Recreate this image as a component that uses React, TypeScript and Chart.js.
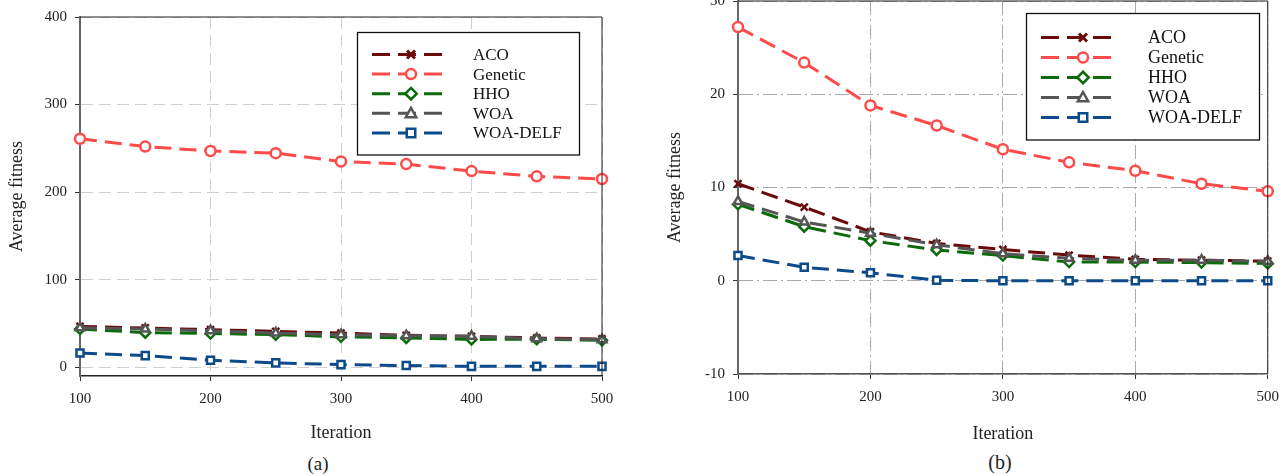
import React, { useEffect, useRef } from 'react';
import { Chart, registerables } from 'chart.js';

Chart.register(...registerables);

// ---------- data ----------
const iterations = [100, 150, 200, 250, 300, 350, 400, 450, 500];
const seriesNames = ['ACO', 'Genetic', 'HHO', 'WOA', 'WOA-DELF'];

// panel (a)
const acoA = [46.6, 44.8, 42.9, 41, 39, 36.4, 35.3, 33.4, 32.3];
const geneticA = [261, 252, 247, 244.5, 235, 232, 224, 218, 215];
const hhoA = [43.6, 39.5, 38.5, 37.2, 34.8, 33.5, 31.8, 32, 30.7];
const woaA = [45, 43.6, 41.7, 39, 37.2, 36, 35.3, 32.6, 31.5];
const woaDelfA = [16.3, 13.3, 8, 5, 3, 1.9, 1, 1, 1];

// panel (b)
const acoB = [10.4, 7.9, 5.25, 4.0, 3.35, 2.75, 2.3, 2.2, 2.1];
const geneticB = [27.2, 23.4, 18.8, 16.65, 14.1, 12.7, 11.8, 10.4, 9.6];
const hhoB = [8.2, 5.8, 4.3, 3.3, 2.7, 2.0, 2.0, 1.95, 1.85];
const woaB = [8.5, 6.3, 5.1, 3.85, 2.9, 2.4, 2.2, 2.2, 2.1];
const woaDelfB = [2.7, 1.45, 0.85, 0.05, 0, 0, 0, 0, 0];

const xTicks = [100, 200, 300, 400, 500];
const yTicksA = [0, 100, 200, 300, 400];
const yTicksB = [-10, 0, 10, 20, 30];

// ---------- styles ----------
const colors = ['#6b0a0a', '#ff4a4a', '#0b6b0b', '#555555', '#0d4a8a'];
const pointStyles = ['crossRot', 'circle', 'rectRot', 'triangle', 'rect'];
const drawOrder = [3, 4, 2, 0, 1];
const FONT = "'Liberation Serif', 'Times New Roman', serif";

function drawMarker(ctx: CanvasRenderingContext2D, style: string, x: number, y: number, r: number, color: string) {
  ctx.save();
  ctx.setLineDash([]);
  ctx.strokeStyle = color;
  ctx.fillStyle = '#ffffff';
  ctx.lineWidth = 2.5;
  ctx.beginPath();
  if (style === 'circle') {
    ctx.arc(x, y, r, 0, Math.PI * 2);
    ctx.fill();
    ctx.stroke();
  } else if (style === 'rect') {
    const s = r * 0.85;
    ctx.rect(x - s, y - s, 2 * s, 2 * s);
    ctx.fill();
    ctx.stroke();
  } else if (style === 'rectRot') {
    const s = r * 1.15;
    ctx.moveTo(x, y - s);
    ctx.lineTo(x + s, y);
    ctx.lineTo(x, y + s);
    ctx.lineTo(x - s, y);
    ctx.closePath();
    ctx.fill();
    ctx.stroke();
  } else if (style === 'triangle') {
    const s = r * 1.1;
    ctx.moveTo(x, y - s);
    ctx.lineTo(x + s * 0.95, y + s * 0.7);
    ctx.lineTo(x - s * 0.95, y + s * 0.7);
    ctx.closePath();
    ctx.fill();
    ctx.stroke();
  } else if (style === 'crossRot') {
    const s = r * 0.8;
    ctx.lineWidth = 3;
    ctx.moveTo(x - s, y - s);
    ctx.lineTo(x + s, y + s);
    ctx.moveTo(x + s, y - s);
    ctx.lineTo(x - s, y + s);
    ctx.stroke();
  }
  ctx.restore();
}

const boxLegend = {
  id: 'boxLegend',
  afterDatasetsDraw(chart: any, _args: any, opts: any) {
    if (!opts || !opts.w) return;
    const ctx: CanvasRenderingContext2D = chart.ctx;
    ctx.save();
    ctx.fillStyle = '#ffffff';
    ctx.fillRect(opts.x, opts.y, opts.w, opts.h);
    ctx.strokeStyle = '#111';
    ctx.lineWidth = 1.3;
    ctx.setLineDash([]);
    ctx.strokeRect(opts.x, opts.y, opts.w, opts.h);
    chart.data.datasets.forEach((ds: any, i: number) => {
      const y = opts.rowY + i * opts.rowGap;
      ctx.strokeStyle = ds.borderColor;
      ctx.lineWidth = 3;
      ctx.setLineDash([18, 8]);
      ctx.beginPath();
      ctx.moveTo(opts.lineX0, y);
      ctx.lineTo(opts.lineX1, y);
      ctx.stroke();
      ctx.setLineDash([]);
      drawMarker(ctx, ds.pointStyle, opts.markerX, y, 5, ds.borderColor);
      ctx.fillStyle = '#111';
      ctx.font = `${opts.fontSize}px ${FONT}`;
      ctx.textBaseline = 'middle';
      ctx.textAlign = 'left';
      ctx.fillText(ds.label, opts.textX, y + 1);
    });
    ctx.restore();
  },
};

const frame = {
  id: 'frame',
  afterDraw(chart: any, _args: any, opts: any) {
    const { left, right, top, bottom } = chart.chartArea;
    const ctx: CanvasRenderingContext2D = chart.ctx;
    ctx.save();
    ctx.setLineDash([]);
    ctx.strokeStyle = opts.color || '#222';
    ctx.lineWidth = opts.width || 1;
    ctx.beginPath();
    ctx.moveTo(left, top);
    ctx.lineTo(right, top);
    ctx.lineTo(right, bottom);
    ctx.stroke();
    ctx.restore();
  },
};

interface PanelCfg {
  width: number;
  height: number;
  series: number[][];
  yMin: number;
  yMax: number;
  yTicks: number[];
  yWidth: number;
  xHeight: number;
  padRight: number;
  padTop: number;
  yTitlePad: number;
  xTitlePad: number;
  yTickLen: number;
  gridColor: string;
  gridDash: number[];
  bottomAxisColor: string;
  legend: any;
}

function Panel({ cfg }: { cfg: PanelCfg }) {
  const ref = useRef<HTMLCanvasElement | null>(null);
  useEffect(() => {
    if (!ref.current) return;
    const datasets = seriesNames.map((name, i) => ({
      label: name,
      data: iterations.map((x, j) => ({ x, y: cfg.series[i][j] })),
      borderColor: colors[i],
      backgroundColor: '#ffffff',
      borderWidth: 3,
      borderDash: [17, 8],
      pointStyle: pointStyles[i],
      pointRadius: 5,
      pointBorderWidth: 2.5,
      pointBackgroundColor: '#ffffff',
      pointBorderColor: colors[i],
      tension: 0,
      clip: false as any,
      order: drawOrder[i],
    }));
    const chart = new Chart(ref.current, {
      type: 'line',
      data: { datasets },
      plugins: [boxLegend, frame],
      options: {
        animation: false,
        responsive: false,
        devicePixelRatio: 1,
        layout: { padding: { left: 0, right: cfg.padRight, top: cfg.padTop, bottom: 0 } },
        plugins: {
          legend: { display: false },
          tooltip: { enabled: false },
          boxLegend: cfg.legend,
          frame: { color: '#222', width: 1 },
        } as any,
        scales: {
          x: {
            type: 'linear',
            min: 100,
            max: 500,
            afterBuildTicks: (s: any) => {
              s.ticks = xTicks.map((v) => ({ value: v }));
            },
            afterFit: (s: any) => {
              s.height = cfg.xHeight;
            },
            ticks: { font: { family: FONT, size: 15 }, color: '#222', padding: 9, maxRotation: 0 },
            grid: {
              color: cfg.gridColor,
              lineWidth: 1,
              drawTicks: true,
              tickLength: cfg.yTickLen,
              tickColor: '#333',
              tickWidth: 1,
            },
            border: { display: true, color: cfg.bottomAxisColor, width: 1.5, dash: cfg.gridDash },
            title: {
              display: true,
              text: 'Iteration',
              font: { family: FONT, size: 18 },
              color: '#222',
              padding: { top: 0, bottom: cfg.xTitlePad },
            },
          },
          y: {
            type: 'linear',
            min: cfg.yMin,
            max: cfg.yMax,
            afterBuildTicks: (s: any) => {
              s.ticks = cfg.yTicks.map((v) => ({ value: v }));
            },
            afterFit: (s: any) => {
              s.width = cfg.yWidth;
            },
            ticks: { font: { family: FONT, size: 15 }, color: '#222', padding: 8 },
            grid: {
              color: cfg.gridColor,
              lineWidth: 1,
              drawTicks: true,
              tickLength: cfg.yTickLen,
              tickColor: '#333',
              tickWidth: 1,
            },
            border: { display: true, color: '#666', width: 2, dash: cfg.gridDash },
            title: {
              display: true,
              text: 'Average fitness',
              font: { family: FONT, size: 18 },
              color: '#222',
              padding: { top: cfg.yTitlePad, bottom: 0 },
            },
          },
        },
      } as any,
    });
    return () => chart.destroy();
  }, [cfg]);
  return <canvas ref={ref} width={cfg.width} height={cfg.height} style={{ display: 'block', width: cfg.width, height: cfg.height }} />;
}

const cfgA: PanelCfg = {
  width: 640,
  height: 450,
  series: [acoA, geneticA, hhoA, woaA, woaDelfA],
  yMin: -10,
  yMax: 400,
  yTicks: yTicksA,
  yWidth: 80,
  xHeight: 74,
  padRight: 38,
  padTop: 16,
  yTitlePad: 6,
  xTitlePad: 6,
  yTickLen: 5,
  gridColor: '#cfcfcf',
  gridDash: [12, 6],
  bottomAxisColor: '#222',
  legend: {
    x: 357.5, y: 32.5, w: 222, h: 122.5,
    rowY: 54.5, rowGap: 19.6,
    lineX0: 372, lineX1: 443, markerX: 411, textX: 473, fontSize: 17,
  },
};

const cfgB: PanelCfg = {
  width: 648,
  height: 470,
  series: [acoB, geneticB, hhoB, woaB, woaDelfB],
  yMin: -10,
  yMax: 30,
  yTicks: yTicksB,
  yWidth: 98,
  xHeight: 76,
  padRight: 14,
  padTop: 21,
  yTitlePad: 24,
  xTitlePad: 5,
  yTickLen: 5,
  gridColor: '#a8a8a8',
  gridDash: [14, 4, 2, 4],
  bottomAxisColor: '#555',
  legend: {
    x: 386.5, y: 33.5, w: 233, h: 126.5,
    rowY: 57.5, rowGap: 20,
    lineX0: 401, lineX1: 478, markerX: 443, textX: 508, fontSize: 18,
  },
};

export default function App() {
  return (
    <div style={{ position: 'absolute', left: 0, top: 0, width: 1288, height: 476, overflow: 'hidden', background: '#fff' }}>
      <div style={{ position: 'absolute', left: 0, top: 0 }}>
        <Panel cfg={cfgA} />
      </div>
      <div style={{ position: 'absolute', left: 640, top: -20 }}>
        <Panel cfg={cfgB} />
      </div>
      <div style={{ position: 'absolute', left: 268, top: 452, width: 100, textAlign: 'center', fontFamily: FONT, fontSize: 19, color: '#222', lineHeight: '24px' }}>(a)</div>
      <div style={{ position: 'absolute', left: 950, top: 450, width: 100, textAlign: 'center', fontFamily: FONT, fontSize: 20, color: '#222', lineHeight: '24px' }}>(b)</div>
    </div>
  );
}
